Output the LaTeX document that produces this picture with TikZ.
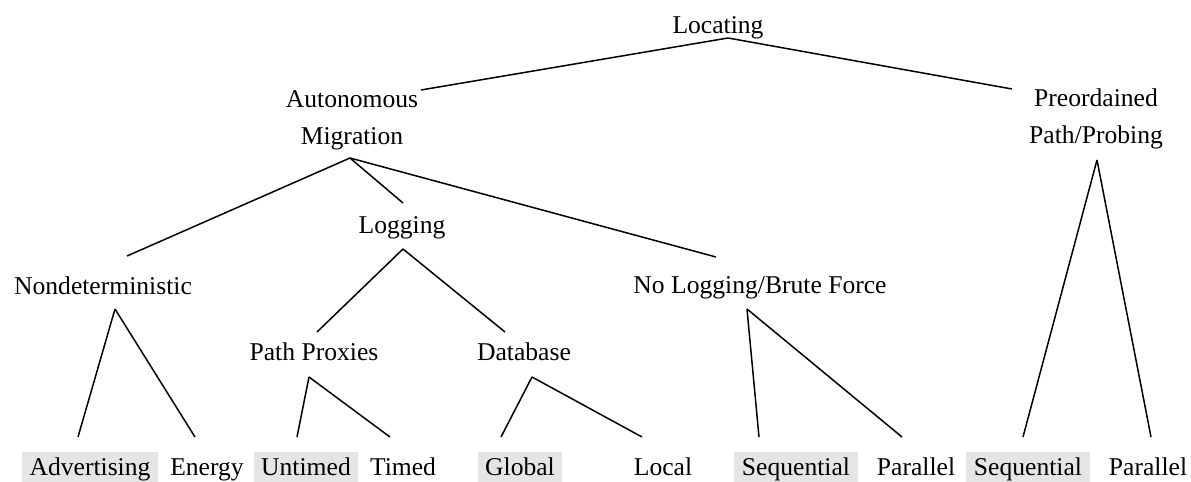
\documentclass[tikz,border=0pt]{standalone}
\usepackage{fontspec}
\setmainfont{Liberation Serif}

\begin{document}
\begin{tikzpicture}
  [x=0.5pt,y=-0.5pt,
   every node/.style={anchor=base,inner xsep=3.8pt,inner ysep=0pt,
     text height=11.5pt,text depth=3.5pt,font=\fontsize{12.8}{18.5}\selectfont},
   shade/.style={fill=black!10},
   branch/.style={line width=0.75pt}]
  \useasboundingbox (0,0) rectangle (1191,482);

  \node (loc) at (718,33)  {Locating};
  \node[align=center] (am)  at (352,144)  {Autonomous\\Migration};
  \node[align=center] (pre) at (1096,143) {Preordained\\Path/Probing};
  \node (nd)  at (103,294) {Nondeterministic};
  \node (lg)  at (402,233) {Logging};
  \node (nl)  at (760,293) {No Logging/Brute Force};
  \node (pp)  at (314,360) {Path Proxies};
  \node (db)  at (524,360) {Database};

  \node[shade] (adv)  at (90,475)   {Advertising};
  \node        (ene)  at (207,475)  {Energy};
  \node[shade] (unt)  at (306,475)  {Untimed};
  \node        (tim)  at (403,475)  {Timed};
  \node[shade] (glo)  at (520,475)  {Global};
  \node        (lcl)  at (663,475)  {Local};
  \node[shade] (seqa) at (796,475)  {Sequential};
  \node        (para) at (916,475)  {Parallel};
  \node[shade] (seqb) at (1028,475) {Sequential};
  \node        (parb) at (1148,475) {Parallel};

  \foreach \from/\fx/\fy/\to/\tx/\ty in
    {loc/10/5/am/69/-54, loc/10/5/pre/-84/-54,
     am/-2/14/nd/24/-38, am/-2/14/lg/1/-30, am/-2/14/nl/-44/-36,
     lg/1/16/pp/3/-28, lg/1/16/db/-19/-28,
     nd/12/15/adv/-12/-38, nd/12/15/ene/-12/-38,
     pp/-5/17/unt/-9/-38, pp/-5/17/tim/-13/-38,
     db/8/17/glo/-19/-38, db/8/17/lcl/-21/-38,
     nl/-13/16/seqa/-37/-38, nl/-13/16/para/-14/-38,
     pre/1/17/seqb/-5/-38, pre/1/17/parb/3/-38}
    \draw [branch] ([shift={(\fx,\fy)}]\from.base) -- ([shift={(\tx,\ty)}]\to.base);
\end{tikzpicture}
\end{document}
